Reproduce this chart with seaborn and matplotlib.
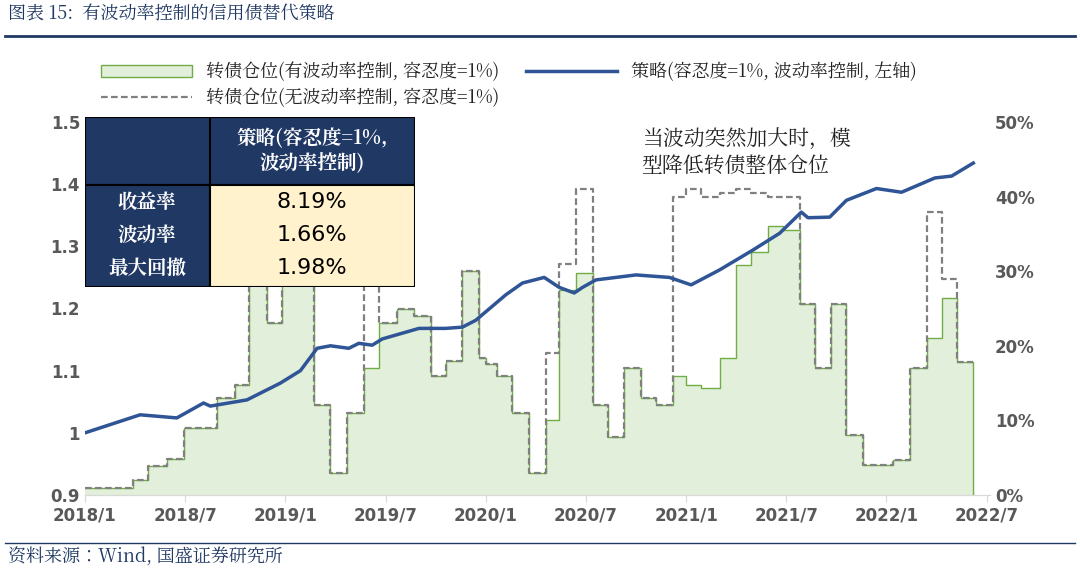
import matplotlib
matplotlib.use("Agg")
import matplotlib.pyplot as plt
from matplotlib import font_manager
import seaborn as sns
import pandas as pd
from matplotlib.patches import Rectangle, Patch
from matplotlib.lines import Line2D

cjk_name = None
for f in font_manager.fontManager.ttflist:
    if "CJK" in f.name and ("SC" in f.name or cjk_name is None):
        cjk_name = f.name
if cjk_name is None:
    for path in font_manager.findSystemFonts():
        if "CJK" in path:
            font_manager.fontManager.addfont(path)
            cjk_name = font_manager.FontProperties(fname=path).get_name()
            break
plt.rcParams["font.family"] = "sans-serif"
plt.rcParams["font.sans-serif"] = [cjk_name or "Noto Sans CJK SC", "DejaVu Sans"]
CJK = cjk_name or "Noto Sans CJK SC"

# months since 2018/1 where positions change
step_months = [0, 2.9, 3.8, 4.9, 5.9, 7.9, 9.0, 9.8, 10.9, 11.8, 13.7, 14.7, 15.7, 16.7, 17.6,
               18.7, 19.7, 20.7, 21.6, 22.6, 23.6, 24.0, 24.7, 25.6, 26.6, 27.6, 28.4, 29.4, 30.4,
               31.3, 32.3, 33.3, 34.2, 35.2, 36.0, 36.9, 38.0, 39.0, 39.9, 40.9, 41.8, 42.8, 43.7,
               44.7, 45.6, 46.6, 48.4, 49.4, 50.4, 51.3, 52.2, 53.2]
pos_no_ctrl = [1, 2, 3.9, 4.8, 9, 13, 14.7, 40, 23, 40, 12, 3, 11, 30, 23, 25, 24, 16, 18, 30,
               18.4, 17.5, 16, 11, 3, 19, 31, 41, 12, 7.8, 17, 13, 12, 40, 41, 40, 40.5, 41, 40.5,
               40, 40, 25.6, 17, 25.6, 8, 4, 4.7, 17, 38, 29, 17.8, 17.8]
pos_ctrl = [1, 2, 3.9, 4.8, 9, 13, 14.7, 38, 23, 35, 12, 3, 11, 17, 23, 25, 24, 16, 18, 30,
            18.4, 17.5, 16, 11, 3, 10, 27.5, 29.7, 12, 7.8, 17, 13, 12, 16, 14.8, 14.3, 18.4, 30.8,
            32.6, 36, 35.5, 25.6, 17, 25.6, 8, 4, 4.7, 17, 21, 26.4, 17.8, 17.8]

strat_months = [0, 3.3, 5.5, 7.1, 7.5, 9.7, 11.7, 12.9, 13.9, 14.7, 15.8, 16.4, 17.2, 17.8, 20,
                21.6, 22.6, 23.4, 25.2, 26.2, 27.5, 28.4, 29.3, 29.8, 30.6, 33, 35, 36.3, 38, 40,
                41.6, 42.9, 43.3, 44.6, 45.6, 47.4, 48.9, 50.9, 51.9, 53.2]
strat_nav = [1.0, 1.029, 1.024, 1.048, 1.043, 1.053, 1.08, 1.10, 1.136, 1.14, 1.136, 1.144, 1.141,
             1.151, 1.168, 1.168, 1.17, 1.181, 1.222, 1.241, 1.25, 1.234, 1.225, 1.234, 1.246,
             1.254, 1.25, 1.238, 1.262, 1.294, 1.321, 1.355, 1.346, 1.347, 1.374, 1.393, 1.387,
             1.41, 1.413, 1.434]

tick_months = [0, 6, 12, 18, 24, 30, 36, 42, 48, 54]
tick_labels = ["2018/1", "2018/7", "2019/1", "2019/7", "2020/1", "2020/7", "2021/1", "2021/7",
               "2022/1", "2022/7"]

table_rows = ["收益率", "波动率", "最大回撤"]
table_vals = ["8.19%", "1.66%", "1.98%"]

fig = plt.figure(figsize=(10.8, 5.76), dpi=100)
ax = fig.add_axes([85/1080, 81/576, 905/1080, 373/576])
ax2 = ax.twinx()

pos_df = pd.DataFrame({"m": step_months, "ctrl": pos_ctrl, "noctrl": pos_no_ctrl})
ax2.fill_between(pos_df["m"], 0, pos_df["ctrl"], step="post", color="#e2efda", lw=0)
ax2.step(list(pos_df["m"]) + [53.2], list(pos_df["ctrl"]) + [0], where="post",
         color="#70ad47", lw=1.0)
ax2.step(pos_df["m"], pos_df["noctrl"], where="post", color="#808080", lw=1.6,
         linestyle=(0, (3, 1.5)))
ax2.set_ylim(0, 50)
ax2.set_yticks([0, 10, 20, 30, 40, 50])
ax2.set_yticklabels([f"{v}%" for v in [0, 10, 20, 30, 40, 50]])

ax.set_zorder(ax2.get_zorder() + 1)
ax.patch.set_visible(False)
sdf = pd.DataFrame({"m": strat_months, "nav": strat_nav})
sns.lineplot(data=sdf, x="m", y="nav", ax=ax, color="#2f5597", lw=2.5)
ax.set_ylim(0.9, 1.5)
ax.set_yticks([0.9, 1.0, 1.1, 1.2, 1.3, 1.4, 1.5])
ax.set_yticklabels(["0.9", "1", "1.1", "1.2", "1.3", "1.4", "1.5"])
ax.set_xlim(0, 54.2)
ax.set_xticks(tick_months)
ax.set_xticklabels(tick_labels)
ax.set_xlabel("")
ax.set_ylabel("")

for a in (ax, ax2):
    for s in ["top", "left", "right"]:
        a.spines[s].set_visible(False)
    a.spines["bottom"].set_color("#d9d9d9")
    a.tick_params(colors="#595959", labelsize=12)
    for lab in a.get_xticklabels() + a.get_yticklabels():
        lab.set_fontweight("bold")
        lab.set_fontfamily("DejaVu Sans")
ax.tick_params(axis="y", length=0)
ax2.tick_params(axis="y", length=0)
ax.tick_params(axis="x", length=5, color="#d9d9d9")

ax2.text(0.615, 0.985, "当波动突然加大时，模\n型降低转债整体仓位", transform=ax.transAxes,
         fontsize=15, style="italic", color="#222222", va="top", linespacing=1.3,
         fontfamily=CJK)

# stats table
tax = fig.add_axes([85/1080, (576-287)/576, 330/1080, 170/576])
tax.set_xlim(0, 330); tax.set_ylim(170, 0); tax.axis("off")
navy = "#1f3864"
tax.add_patch(Rectangle((0, 0), 330, 68, fc=navy, ec="black", lw=1.5))
tax.add_patch(Rectangle((0, 68), 125, 102, fc=navy, ec="black", lw=1.5))
tax.add_patch(Rectangle((125, 68), 205, 102, fc="#fff2cc", ec="black", lw=1.5))
tax.plot([125, 125], [0, 68], color="black", lw=1.5)
tax.text(227, 34, "策略(容忍度=1%,\n波动率控制)", color="white", fontsize=14,
         ha="center", va="center", fontweight="bold", linespacing=1.3, fontfamily=CJK)
for i, (r, v) in enumerate(zip(table_rows, table_vals)):
    y = 85 + i * 33
    tax.text(62, y, r, color="white", fontsize=14, ha="center", va="center",
             fontweight="bold", fontfamily=CJK)
    tax.text(227, y, v, color="black", fontsize=16, ha="center", va="center",
             fontfamily="DejaVu Sans")

handles = [Patch(fc="#e2efda", ec="#70ad47"),
           Line2D([], [], color="#808080", lw=1.6, linestyle=(0, (3, 1.5))),
           Line2D([], [], color="#2f5597", lw=2.5)]
labels = ["转债仓位(有波动率控制, 容忍度=1%)", "转债仓位(无波动率控制, 容忍度=1%)",
          "策略(容忍度=1%, 波动率控制, 左轴)"]
fig.legend(handles, labels, ncol=2, loc="upper left", bbox_to_anchor=(85/1080, 1 - 46/576),
           frameon=False, prop={"family": CJK, "size": 13}, handlelength=5,
           columnspacing=1.5, labelspacing=0.3, labelcolor="#222222")

fig.text(8/1080, 1 - 14/576, "图表 15:  有波动率控制的信用债替代策略", fontsize=13,
         color="#1f3864", style="italic", va="center", fontfamily=CJK)
fig.add_artist(Line2D([0.005, 0.995], [1 - 36/576, 1 - 36/576], color="#1f3864", lw=2))
fig.add_artist(Line2D([0.005, 0.995], [1 - 543/576, 1 - 543/576], color="#1f3864", lw=1))
fig.text(8/1080, 1 - 558/576, "资料来源：Wind, 国盛证券研究所", fontsize=13,
         color="#1f3864", style="italic", va="center", fontfamily=CJK)

fig.savefig("out.png", dpi=100)
